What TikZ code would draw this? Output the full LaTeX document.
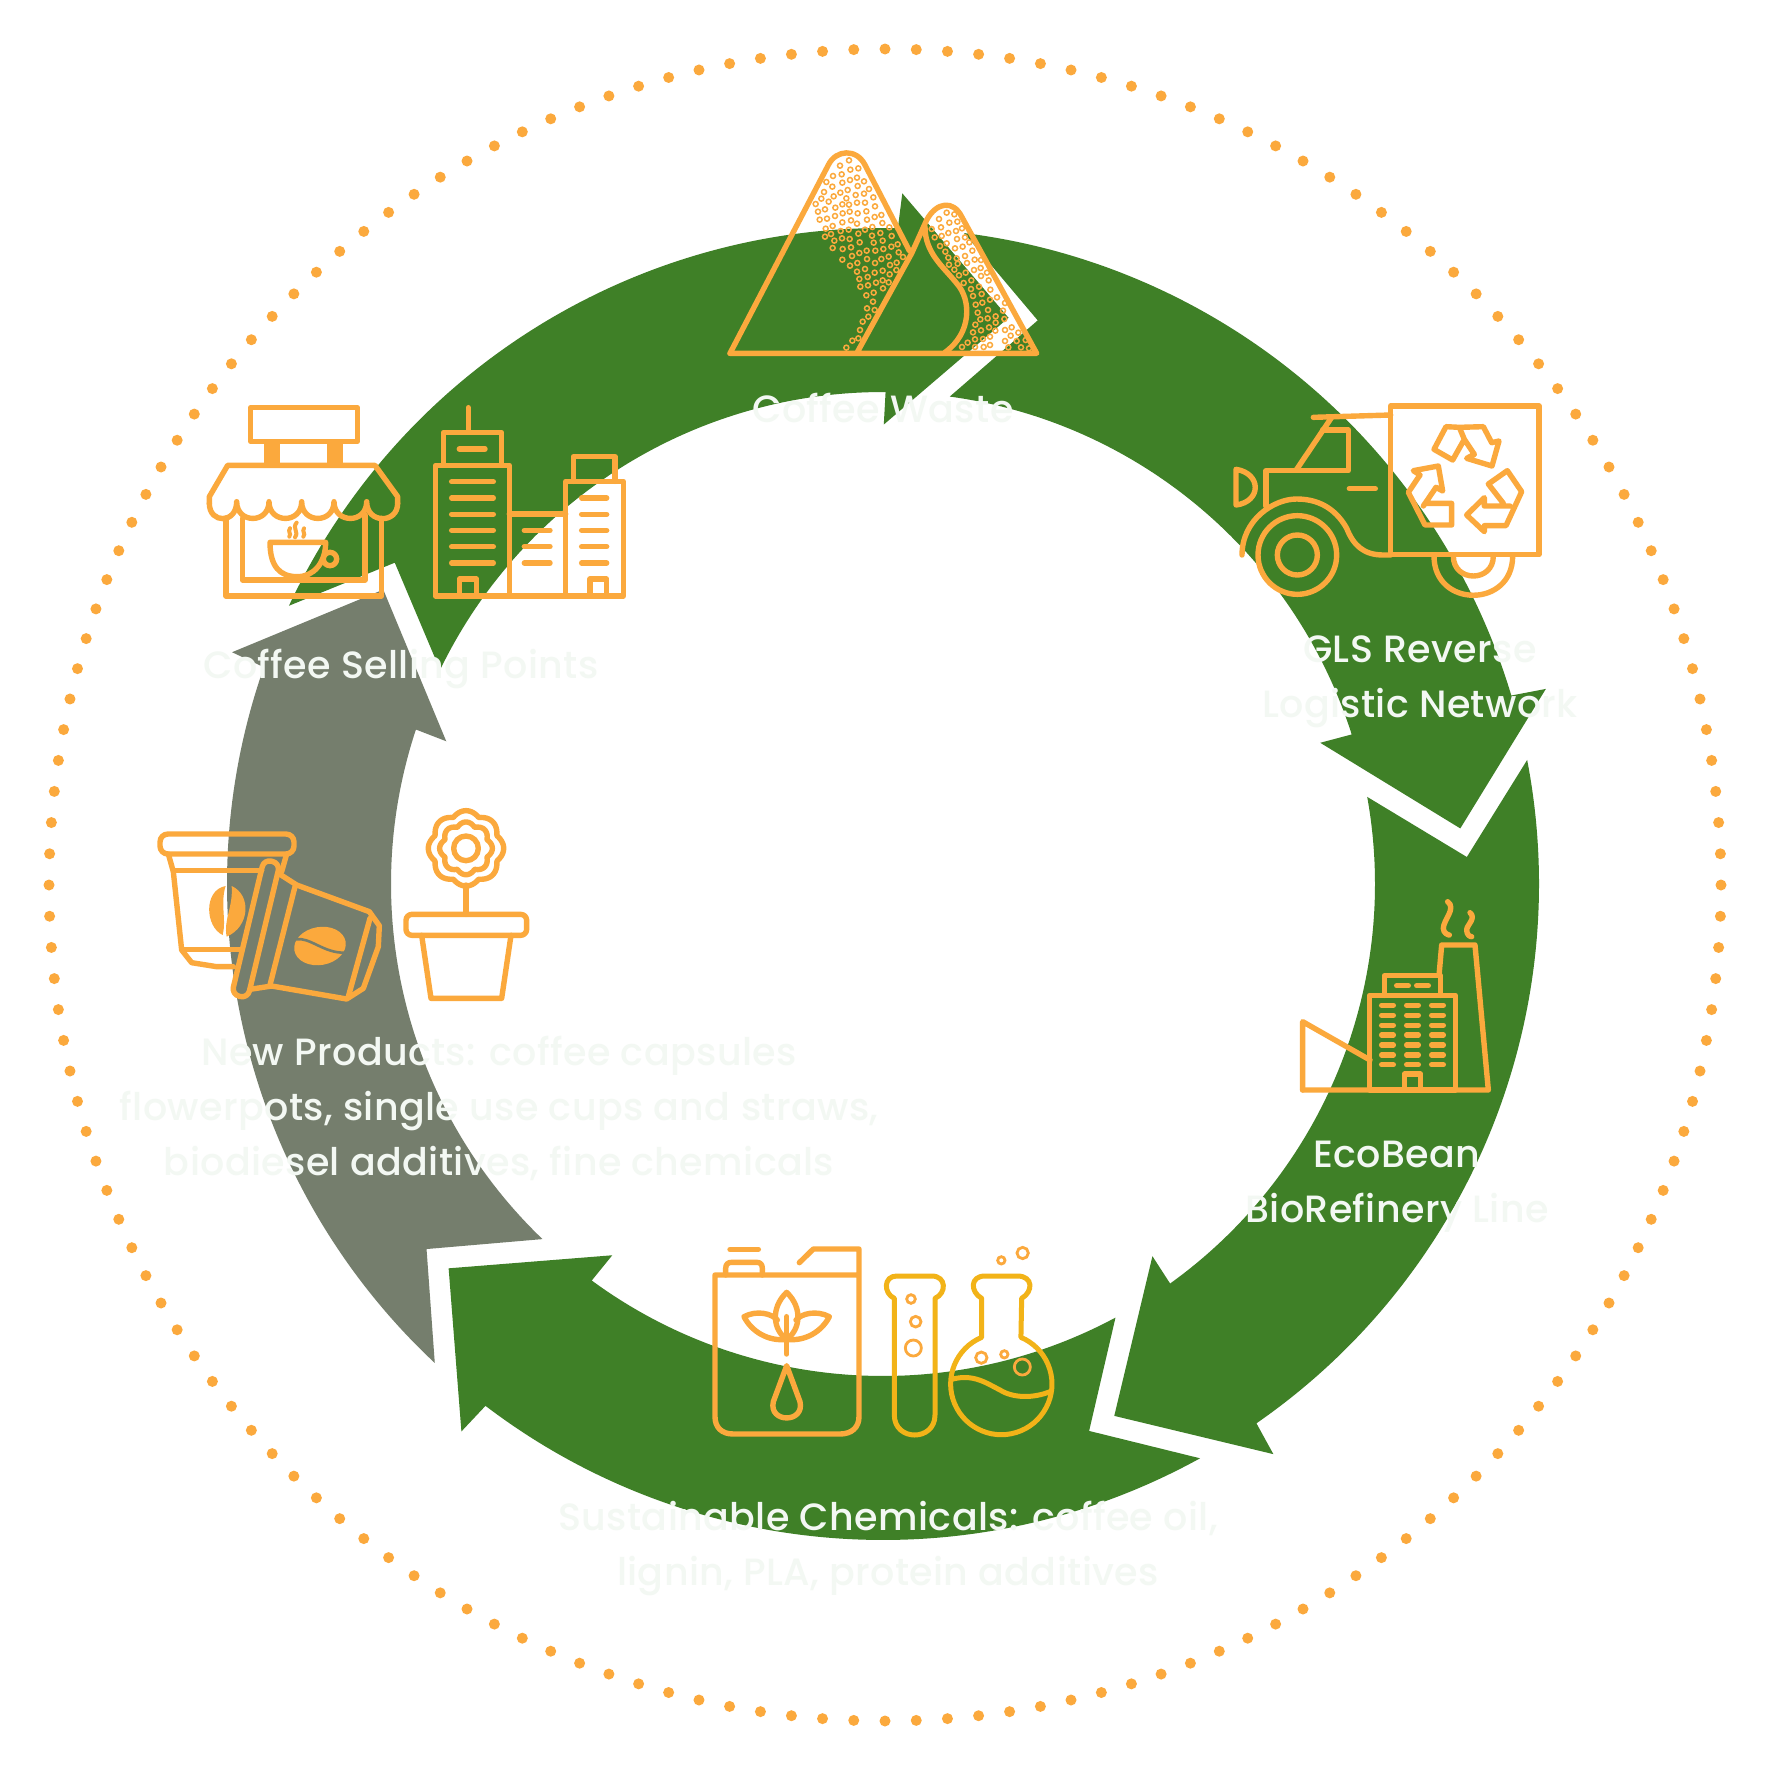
\documentclass[tikz,border=0pt]{standalone}
\usepackage{fontspec}
\setmainfont{Poppins}[UprightFont=* Medium,LetterSpace=1]
\definecolor{ringgreen}{HTML}{3F8027}
\definecolor{ringgrey}{HTML}{757E6D}
\definecolor{ico}{HTML}{FBA93D}
\definecolor{flaskyel}{HTML}{F2B318}
\definecolor{lbl}{HTML}{F3F8F3}
\tikzset{
  zoomarea/.style 2 args={shift={(#1pt,-#2pt)},x=0.33333pt,y=-0.33333pt},
  icon/.style={draw=ico,line width=5.4pt,line cap=round,line join=round},
  thinicon/.style={draw=ico,line width=2.8pt},
  flask/.style={draw=flaskyel,line width=5pt,line cap=round,line join=round},
  speck/.style={draw=ico,line width=1.5pt},
  lab/.style={text=lbl,align=center,font=\fontsize{38}{55}\selectfont},
}
\begin{document}
\begin{tikzpicture}[x=1pt,y=1pt]
\useasboundingbox (0,0) rectangle (1772,-1772);
\fill[white] (0,0) rectangle (1772,-1772);
% dotted ring
\begin{scope}[shift={(885pt,-885pt)}]
\foreach \i in {0,...,167}
  \fill[ico] ({90+\i*2.142857}:836) circle (5.5);
\end{scope}
% five arrows
\begin{scope}[shift={(883pt,-884pt)}]
\foreach \k/\c in {0/ringgreen,1/ringgreen,2/ringgreen,3/ringgreen,4/ringgrey}{
  \pgfmathsetmacro\ph{-72*\k}
  \fill[\c] ({154.9+\ph}:656) arc[start angle={154.9+\ph},end angle={88.7+\ph},radius=656]
    -- ({88.4+\ph}:691) -- ({77.5+\ph}:580) -- ({89.9+\ph}:459.5) -- ({89.7+\ph}:492)
    arc[start angle={89.7+\ph},end angle={154.2+\ph},radius=492]
    -- ({146.65+\ph}:584.5) -- cycle;
}
\end{scope}
% mountains
\begin{scope}[zoomarea={650}{120}]
\draw[icon] (240,700) -- (535,135) .. controls (558,88) and (620,85) .. (645,135) -- (778,392);
\draw[icon] (240,700) -- (1160,700) -- (935,290) .. controls (910,240) and (860,245) .. (830,300) -- (785,400) -- (620,700);
\draw[icon] (825,320) .. controls (825,400) and (880,440) .. (920,490) .. controls (965,540) and (965,640) .. (885,697);
\foreach \a/\b in {597/121,570/137,625/145,601/149,575/163,549/168,621/173,600/180,577/188,642/184,529/186,547/200,623/198,593/210,571/218,657/207,522/216,642/221,617/225,551/229,514/236,670/232,589/235,536/245,645/248,621/248,497/252,577/253,597/254,675/259,556/263,599/275,525/268,504/275,649/274,623/280,578/280,694/285,674/291,555/288,531/296,509/299,651/299,603/301,577/307,697/309,621/311,548/318,527/326,667/321,645/329,572/333,596/329,718/322,691/339,625/341,666/347,543/342,525/350,576/355,599/357,725/348,698/362,553/362,629/367,671/368,548/384,578/387,603/382,743/373,724/380,700/387,676/392,650/392,628/399,746/397,606/408,577/419,694/417,716/410,651/417,759/411,622/429,675/429,600/437,740/428,720/435,645/447,698/452,621/455,674/458,739/450,719/463,653/471,628/477,698/481,678/488,654/496,631/500,716/487,699/505,649/526,671/518,669/545,651/565,674/570,655/590,638/605,630/630,607/662,589/683,625/655,
890/278,867/297,913/283,898/308,922/305,873/322,936/325,895/339,918/333,875/348,845/327,854/352,945/352,921/357,890/370,958/367,870/378,938/380,915/385,886/395,967/392,945/408,895/413,920/415,974/419,993/420,897/434,923/431,951/429,972/450,992/444,913/449,947/458,1011/458,927/466,993/468,964/481,1016/481,941/489,987/500,963/507,1021/509,995/522,969/528,1041/532,1020/539,997/548,977/554,1065/549,1059/572,1014/570,983/578,1037/589,1013/595,991/598,1063/597,1037/608,976/614,1017/622,993/631,1085/622,1065/630,1036/632,969/637,1105/638,1082/647,1020/650,999/657,975/658,953/668,1065/663,1127/660,1100/663,1020/675,1001/681,975/681,936/681,1075/682,1113/682,1137/685}
  \draw[speck] (\a,\b) circle (7.5);
\end{scope}
% truck
\begin{scope}[zoomarea={1150}{380}]
\draw[icon] (722,78) rectangle (1167,524);
\draw[icon] (490,112) -- (722,105);
\draw[icon] (440,268) -- (545,112);
\draw[icon] (518,150) -- (595,150) -- (595,272) -- (348,272) -- (348,378);
\draw[icon] (598,326) -- (676,326);
\draw[icon] (258,268) .. controls (335,280) and (335,365) .. (258,375) -- cycle;
\draw[icon] (276,525) .. controls (276,420) and (370,357) .. (440,357) .. controls (520,357) and (565,400) .. (590,445) .. controls (610,495) and (640,525) .. (700,525) -- (722,525);
\draw[icon] (442,525) circle (118);
\draw[icon] (442,525) circle (60);
\draw[icon] (852,528) .. controls (852,685) and (1088,685) .. (1088,528);
\draw[icon] (910,528) .. controls (910,608) and (1030,608) .. (1030,528);
\draw[icon] (928,142) -- (888,140) -- (852,208) -- (908,240) -- (943,178) -- (928,142) -- (1000,140) -- (1025,188) -- (1047,183) -- (1026,258) -- (950,235) -- (973,223) -- (943,178);
\draw[icon] (1080,378) -- (1003,378) -- (1003,353) -- (950,405) -- (1003,455) -- (1003,437) -- (1068,437) -- (1115,335) -- (1072,272) -- (1015,312) -- (1060,370);
\draw[icon] (790,272) -- (865,258) -- (878,333) -- (858,322) -- (820,378) -- (825,370) -- (905,370) -- (905,435) -- (825,435) -- (775,337) -- (810,285) -- cycle;
\end{scope}
% shop and city
\begin{scope}[zoomarea={180}{380}]
\draw[icon] (212,83) rectangle (532,184);
\fill[ico] (252,184) rectangle (300,250);
\fill[ico] (442,184) rectangle (490,250);
\draw[icon] (88,370) -- (88,350) -- (143,256) -- (585,256) -- (653,350) -- (653,370);
\draw[icon] (88,370) .. controls (88,432) and (170,432) .. (170,365) .. controls (170,432) and (267,432) .. (267,365) .. controls (267,432) and (365,432) .. (365,365) .. controls (365,432) and (462,432) .. (462,365) .. controls (462,432) and (560,432) .. (560,365) .. controls (560,432) and (653,432) .. (653,370);
\draw[icon] (138,415) -- (138,648) -- (605,648) -- (605,415);
\draw[icon] (187,415) -- (187,600) -- (555,600) -- (555,405);
\draw[icon] (270,487) -- (437,487) .. controls (437,550) and (400,590) .. (352,590) .. controls (300,590) and (270,560) .. (270,487) -- cycle;
\draw[icon] (450,537) circle (20);
\draw[draw=ico,line width=4pt,line cap=round] (330,445) .. controls (322,455) and (335,460) .. (328,470);
\draw[draw=ico,line width=4pt,line cap=round] (350,428) .. controls (335,445) and (358,455) .. (345,472);
\draw[draw=ico,line width=4pt,line cap=round] (372,445) .. controls (365,455) and (378,460) .. (370,470);
\draw[icon] (865,83) -- (865,155);
\draw[icon] (790,250) -- (790,157) -- (965,157) -- (965,250);
\draw[icon] (838,207) -- (915,207);
\draw[icon] (766,256) rectangle (988,648);
\foreach \y in {305,354,403,451,500,549} \draw[icon] (815,\y) -- (940,\y);
\draw[icon] (838,648) -- (838,597) -- (890,597) -- (890,648);
\draw[icon] (988,402) -- (1157,402);
\foreach \y in {451,500,549} \draw[icon] (1033,\y) -- (1110,\y);
\draw[icon] (1157,304) rectangle (1330,648);
\draw[icon] (1180,304) -- (1180,230) -- (1305,230) -- (1305,304);
\foreach \y in {354,403,451,500,549} \draw[icon] (1205,\y) -- (1280,\y);
\draw[icon] (1230,648) -- (1230,597) -- (1280,597) -- (1280,648);
\draw[icon] (988,648) -- (1157,648);
\end{scope}
% cups and flowerpot
\begin{scope}[zoomarea={130}{780}]
\draw[icon,rounded corners=8pt] (90,162) rectangle (492,222);
\draw[icon] (115,222) -- (130,275) -- (155,510) -- (185,548) -- (260,560) -- (310,560);
\draw[icon] (470,222) -- (455,275);
\draw[icon] (130,272) -- (395,272);
\draw[icon] (160,508) -- (335,508);
\fill[ico] (287,318) .. controls (220,330) and (225,440) .. (278,465) .. controls (290,420) and (270,370) .. (287,318) -- cycle;
\fill[ico] (305,318) .. controls (365,345) and (360,440) .. (290,470) .. controls (280,420) and (310,380) .. (305,318) -- cycle;
\draw[icon,rounded corners=7.5pt] (450,250) -- (402,238) -- (305,643) -- (353,655) -- cycle;
\draw[icon] (450,283) -- (500,315) -- (718,395) -- (748,437) -- (745,500) -- (700,625) -- (650,657) -- (425,618) -- (360,628);
\draw[icon] (495,320) -- (420,615);
\draw[icon] (720,415) -- (655,650);
\fill[ico,rotate around={10:(570,498)}] (570,498) ellipse (78 and 57);
\draw[ringgrey,line width=2.6pt] (497,478) .. controls (540,470) and (580,520) .. (645,518);
\draw[icon] plot[domain=0:360,samples=181] ({1008+(100+13*abs(cos(4*\x)))*cos(\x)},{205+(100+13*abs(cos(4*\x)))*sin(\x)});
\draw[icon] plot[domain=0:360,samples=181] ({1008+(68+11*abs(cos(4*\x)))*cos(\x)},{205+(68+11*abs(cos(4*\x)))*sin(\x)});
\draw[icon] (1008,205) circle (37);
\draw[icon] (1008,315) -- (1008,403);
\draw[icon,rounded corners=6pt] (828,403) rectangle (1190,466);
\draw[icon] (875,466) -- (903,655) -- (1115,655) -- (1143,466);
\end{scope}
% chemicals
\begin{scope}[zoomarea={680}{1220}]
\draw[icon] (358,128) -- (400,87) -- (537,87) -- (537,590) .. controls (537,622) and (515,642) .. (480,642) -- (160,642) .. controls (125,642) and (105,622) .. (105,590) -- (105,165) -- (537,165);
\draw[icon] (137,165) -- (137,145) .. controls (137,132) and (145,127) .. (155,127) -- (230,127) .. controls (240,127) and (247,132) .. (247,145) -- (247,165);
\draw[icon] (150,88) -- (235,88);
\draw[icon] (320,217) .. controls (270,265) and (280,330) .. (320,358) .. controls (360,330) and (370,265) .. (320,217) -- cycle;
\draw[icon] (292,300) .. controls (275,280) and (230,270) .. (192,290) .. controls (215,335) and (265,365) .. (320,358) .. controls (375,365) and (425,335) .. (448,290) .. controls (410,270) and (365,280) .. (348,300);
\draw[icon] (320,290) -- (320,402);
\draw[icon] (320,437) -- (280,545) .. controls (265,610) and (375,610) .. (360,545) -- cycle;
\draw[flask] (643,235) -- (643,585) .. controls (643,665) and (765,665) .. (765,585) -- (765,235) .. controls (800,220) and (800,168) .. (755,168) -- (650,168) .. controls (610,168) and (610,220) .. (643,235) -- cycle;
\foreach \a/\b/\r in {693/237/13,707/305/16,700/384/24,1028/99/17,964/121/11,904/413/17,973/403/11,1027/441/24}
  \draw[thinicon] (\a,\b) circle (\r);
\draw[flask] (905,235) -- (905,352) arc (247.2:-67.2:152) -- (1025,235) .. controls (1060,215) and (1060,168) .. (1012,168) -- (915,168) .. controls (870,168) and (870,215) .. (905,235) -- cycle;
\draw[flask] (815,478) .. controls (880,460) and (920,490) .. (960,510) .. controls (1000,535) and (1060,535) .. (1110,515);
\end{scope}
% factory
\begin{scope}[zoomarea={1270}{880}]
\draw[icon] (98,630) -- (655,630) -- (615,195) -- (515,195) -- (507,287);
\draw[icon] (98,630) -- (98,425) -- (300,540);
\draw[icon] (298,346) rectangle (556,630);
\draw[icon] (343,346) -- (343,287) -- (512,287) -- (512,346);
\draw[icon] (403,630) -- (403,582) -- (452,582) -- (452,630);
\draw[icon] (380,317) -- (415,317);
\draw[icon] (440,317) -- (475,317);
\foreach \y in {376,406,436,465,495,525,554}{
  \draw[icon] (335,\y) -- (370,\y);
  \draw[icon] (410,\y) -- (445,\y);
  \draw[icon] (485,\y) -- (520,\y);
}
\draw[icon] (533,65) .. controls (560,85) and (520,120) .. (520,145) .. controls (520,160) and (535,165) .. (538,165);
\draw[icon] (600,98) .. controls (620,115) and (590,135) .. (590,150) .. controls (590,165) and (600,170) .. (605,170);
\end{scope}
% labels
\node[lab] (waste) at (883,-408) {Coffee Waste};
\node[lab] (gls) at (1420,-681.5) {GLS Reverse\\Logistic Network};
\node[lab] (sell) at (401,-668.5) {Coffee Selling Points};
\node[lab] (prod) at (499,-1108) {New Products: coffee capsules\\flowerpots, single use cups and straws,\\biodiesel additives, fine chemicals};
\node[lab] (eco) at (1397,-1186.5) {EcoBean\\BioRefinery Line};
\node[lab] (chem) at (888,-1548.5) {Sustainable Chemicals: coffee oil,\\lignin, PLA, protein additives};
\end{tikzpicture}
\end{document}
